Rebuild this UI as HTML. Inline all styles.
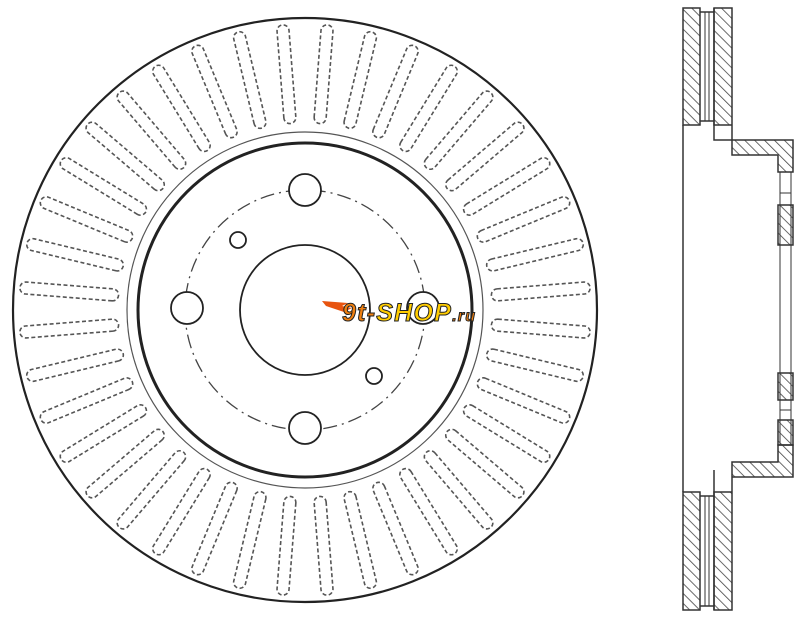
<!DOCTYPE html>
<html><head><style>html,body{margin:0;padding:0;background:#fff;width:800px;height:622px;overflow:hidden}</style></head>
<body>
<svg width="800" height="622" viewBox="0 0 800 622" xmlns="http://www.w3.org/2000/svg">
<defs>
<pattern id="h" width="7" height="7" patternUnits="userSpaceOnUse" patternTransform="rotate(-45)">
<line x1="0" y1="0" x2="0" y2="7" stroke="#444" stroke-width="1.6"/>
</pattern>
<rect id="slot" x="187" y="-6" width="99" height="12" rx="6" fill="none" stroke="#555" stroke-width="1.6" stroke-dasharray="4,2.5"/>
</defs>
<g transform="translate(305,310)" fill="none" stroke="#222">
<circle r="292" stroke-width="2.2"/>
<circle r="178" stroke-width="1.2" stroke="#555"/>
<circle r="167" stroke-width="3"/>
<circle r="65" stroke-width="1.8"/>
<circle r="120" stroke-width="1.3" stroke="#444" stroke-dasharray="14,5,2,5"/>
<g transform="rotate(4.5)">
<use href="#slot" transform="rotate(0)"/><use href="#slot" transform="rotate(9)"/><use href="#slot" transform="rotate(18)"/><use href="#slot" transform="rotate(27)"/><use href="#slot" transform="rotate(36)"/><use href="#slot" transform="rotate(45)"/><use href="#slot" transform="rotate(54)"/><use href="#slot" transform="rotate(63)"/><use href="#slot" transform="rotate(72)"/><use href="#slot" transform="rotate(81)"/>
<use href="#slot" transform="rotate(90)"/><use href="#slot" transform="rotate(99)"/><use href="#slot" transform="rotate(108)"/><use href="#slot" transform="rotate(117)"/><use href="#slot" transform="rotate(126)"/><use href="#slot" transform="rotate(135)"/><use href="#slot" transform="rotate(144)"/><use href="#slot" transform="rotate(153)"/><use href="#slot" transform="rotate(162)"/><use href="#slot" transform="rotate(171)"/>
<use href="#slot" transform="rotate(180)"/><use href="#slot" transform="rotate(189)"/><use href="#slot" transform="rotate(198)"/><use href="#slot" transform="rotate(207)"/><use href="#slot" transform="rotate(216)"/><use href="#slot" transform="rotate(225)"/><use href="#slot" transform="rotate(234)"/><use href="#slot" transform="rotate(243)"/><use href="#slot" transform="rotate(252)"/><use href="#slot" transform="rotate(261)"/>
<use href="#slot" transform="rotate(270)"/><use href="#slot" transform="rotate(279)"/><use href="#slot" transform="rotate(288)"/><use href="#slot" transform="rotate(297)"/><use href="#slot" transform="rotate(306)"/><use href="#slot" transform="rotate(315)"/><use href="#slot" transform="rotate(324)"/><use href="#slot" transform="rotate(333)"/><use href="#slot" transform="rotate(342)"/><use href="#slot" transform="rotate(351)"/>
</g>
<g stroke-width="1.8" fill="#fff">
<circle cx="0" cy="-120" r="16"/><circle cx="-118" cy="-2" r="16"/><circle cx="0" cy="118" r="16"/><circle cx="118" cy="-2" r="16"/>
<circle cx="-67" cy="-70" r="8"/><circle cx="69" cy="66" r="8"/>
</g>
</g>
<!-- logo -->
<g font-family="Liberation Sans, sans-serif" font-weight="bold" font-style="italic">
<path d="M322 301 L348 303 L342 306 L352 308 L344 312 L326 306 Z" fill="#e8540f"/>
<text x="342" y="321" font-size="25" fill="#f08010" stroke="#222" stroke-width="1" letter-spacing="-1" textLength="132">9t-<tspan fill="#ffcc00">SHOP</tspan><tspan font-size="16">.ru</tspan></text>
</g>
<!-- side view -->
<g stroke="#333" stroke-width="1.5">
<rect x="683" y="8" width="17" height="117" fill="url(#h)"/>
<path d="M714 8 H732 V140 H793 V172 H778 V155 H732 V125 H714 Z" fill="url(#h)"/>
<path d="M714 8 V140 H732" fill="none"/>
<rect x="683" y="492" width="17" height="118" fill="url(#h)"/>
<path d="M714 610 H732 V477 H793 V445 H778 V462 H732 V492 H714 Z" fill="url(#h)"/>
<path d="M714 470 V610" fill="none"/>
<path d="M700 12 H714 M700 121 H714 M700 496 H714 M700 606 H714" fill="none"/>
<path d="M705 12 V121 M709 12 V121 M705 496 V606 M709 496 V606" stroke-width="1" fill="none"/>
<line x1="683" y1="125" x2="683" y2="492"/>
<line x1="780" y1="172" x2="780" y2="445" stroke-width="1"/>
<line x1="791" y1="172" x2="791" y2="445" stroke-width="1"/>
<rect x="778" y="205" width="15" height="40" fill="url(#h)"/>
<rect x="778" y="373" width="15" height="27" fill="url(#h)"/>
<rect x="778" y="420" width="15" height="25" fill="url(#h)"/>
<path d="M780 193 H791 M780 410 H791" stroke-width="1"/>
</g>
</svg>
</body></html>
